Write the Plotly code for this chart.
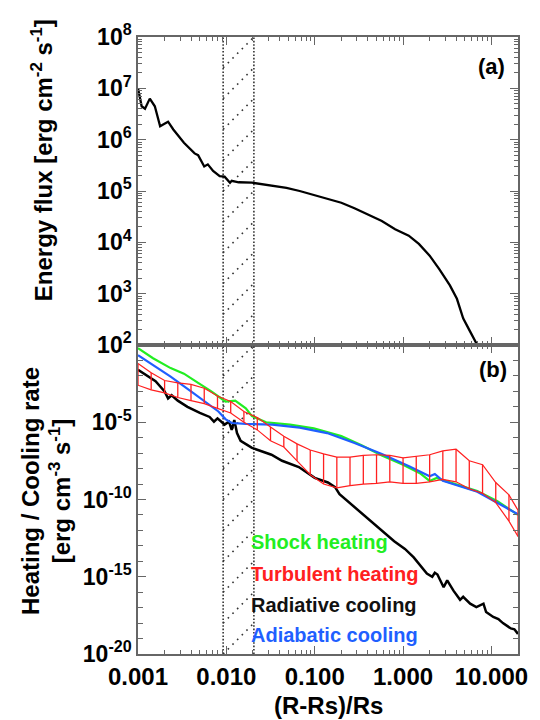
import numpy as np
import plotly.graph_objects as go
from plotly.subplots import make_subplots

# ---------------- data ----------------
# Panel (a): energy flux
r_flux = [0.001, 0.0011, 0.0012, 0.00136, 0.00155, 0.00178, 0.00195, 0.00219, 0.00251,
          0.00331, 0.00437, 0.00479, 0.00562, 0.00617, 0.00708, 0.00841, 0.00955, 0.011,
          0.0115, 0.0138, 0.0195, 0.0331, 0.0479, 0.0676, 0.0977, 0.138, 0.2, 0.282,
          0.398, 0.575, 0.813, 1.16, 1.51, 2.0, 2.57, 3.39, 4.07, 4.79, 5.75, 6.92]
energy_flux = [1.0e7, 4.47e6, 4.0e6, 6.3e6, 4.47e6, 1.82e6, 2.0e6, 2.24e6, 1.58e6,
               8.7e5, 5.4e5, 5.0e5, 3.0e5, 3.3e5, 2.45e5, 1.95e5, 1.9e5, 1.45e5,
               1.58e5, 1.48e5, 1.45e5, 1.29e5, 1.15e5, 1.0e5, 8.3e4, 6.9e4, 5.9e4, 4.6e4,
               3.5e4, 2.6e4, 1.8e4, 1.35e4, 9.3e3, 5.5e3, 3.0e3, 1.45e3, 794, 331, 182, 100]

# Panel (b): shock heating (green)
r_shock = [0.001, 0.00148, 0.00234, 0.00331, 0.00479, 0.00676, 0.00977, 0.0126, 0.0166,
           0.0195, 0.0282, 0.0525, 0.0977, 0.2, 0.339, 0.575, 1.0, 1.55, 2.0, 2.4, 2.82,
           4.07, 6.92, 11.7, 20.0]
shock_heating = [6.3e-1, 1.4e-1, 3.2e-2, 1.4e-2, 3.5e-3, 1.0e-3, 2.2e-4, 2.5e-4, 7.9e-5,
                 2.5e-5, 1.0e-5, 7.1e-6, 4.0e-6, 1.26e-6, 3.2e-7, 7.1e-8, 1.8e-8, 5.0e-9,
                 1.6e-9, 2.5e-9, 1.8e-9, 8.9e-10, 3.5e-10, 7.9e-11, 1.0e-11]

# adiabatic cooling (blue)
r_adiab = [0.001, 0.00148, 0.00234, 0.00398, 0.00562, 0.00813, 0.00977, 0.0115, 0.0166,
           0.0331, 0.0676, 0.138, 0.282, 0.575, 1.17, 2.0, 2.29, 2.82, 6.92, 20.0]
adiabatic_cooling = [2.2e-1, 5.0e-2, 8.9e-3, 1.0e-3, 2.5e-4, 5.0e-5, 1.6e-5, 8.9e-6, 7.9e-6,
                     7.1e-6, 4.5e-6, 2.0e-6, 4.5e-7, 8.9e-8, 1.4e-8, 3.2e-9, 4.5e-9, 1.6e-9,
                     3.2e-10, 1.1e-11]

# radiative cooling (black)
r_rad = [0.001, 0.00126, 0.00158, 0.002, 0.00219, 0.0024, 0.00282, 0.00363, 0.00501,
         0.00646, 0.00724, 0.00794, 0.00955, 0.0107, 0.0115, 0.0123, 0.0132, 0.0145,
         0.0195, 0.0324, 0.0427, 0.0661, 0.1, 0.141, 0.17, 0.191, 0.282, 0.479, 0.794,
         1.05, 1.32, 1.86, 2.14, 2.29, 2.45, 2.88, 3.16, 3.72, 4.42, 4.79, 5.75, 6.76,
         8.13, 8.71, 10.5, 12.0, 13.5, 16.6, 18.2, 20.0]
radiative_cooling = [2.5e-2, 1.1e-2, 4.5e-3, 1.0e-3, 3.5e-4, 5.6e-4, 2.5e-4, 1.0e-4, 4.0e-5,
                     2.2e-5, 1.1e-5, 1.8e-5, 7.1e-6, 1.1e-5, 3.2e-6, 1.4e-5, 2.0e-6, 6.3e-7,
                     2.2e-7, 7.9e-8, 3.2e-8, 1.26e-8, 2.5e-9, 1.26e-9, 6.3e-10, 2.2e-10,
                     3.2e-11, 2.5e-12, 2.0e-13, 6.3e-14, 1.8e-14, 1.6e-15, 1.0e-15, 1.8e-15,
                     1.4e-15, 2.1e-16, 5.8e-16, 1.26e-16, 3.2e-17, 5.0e-17, 1.8e-17, 1.1e-17,
                     1.8e-17, 5.2e-18, 2.5e-18, 1.8e-18, 1.0e-18, 4.5e-19, 4.0e-19, 2.0e-19]

# turbulent heating (red): upper / lower envelope
r_turb = [0.001, 0.00141, 0.002, 0.00282, 0.00398, 0.00562, 0.00794, 0.0112, 0.0158,
          0.0224, 0.0316, 0.0447, 0.0631, 0.0891, 0.126, 0.178, 0.251, 0.355, 0.501,
          0.708, 1.0, 1.41, 2.0, 2.82, 3.98, 5.62, 7.94, 11.2, 15.8, 20.0]
turb_upper = [6.3e-2, 1.6e-2, 5.0e-3, 3.5e-3, 2.8e-3, 1.6e-3, 5.0e-4, 2.2e-4, 5.0e-5,
              2.0e-5, 5.0e-6, 1.26e-6, 4.0e-7, 1.6e-7, 8.9e-8, 5.6e-8, 5.6e-8, 7.1e-8,
              7.9e-8, 7.1e-8, 5.0e-8, 6.3e-8, 7.9e-8, 1.4e-7, 1.8e-7, 3.2e-8, 1.8e-8,
              1.26e-9, 2.0e-10, 2.0e-11]
turb_lower = [2.5e-3, 1.26e-3, 7.9e-4, 4.0e-4, 2.5e-4, 1.6e-4, 7.9e-5, 4.0e-5, 1.0e-5,
              3.2e-6, 6.3e-7, 2.5e-7, 3.2e-8, 4.0e-9, 1.0e-9, 5.6e-10, 7.9e-10, 1.0e-9,
              1.1e-9, 1.4e-9, 1.1e-9, 1.1e-9, 1.4e-9, 2.0e-9, 1.4e-9, 5.0e-10, 2.5e-10,
              6.3e-11, 4.0e-12, 4.0e-13]

# transition-region band and tick labels
band_left, band_right = 0.0092, 0.0205
x_tickvals = [0.001, 0.01, 0.1, 1, 10]
x_ticktext = ["0.001", "0.010", "0.100", "1.000", "10.000"]
ya_tickvals = [1e2, 1e3, 1e4, 1e5, 1e6, 1e7, 1e8]
ya_ticktext = ["10<sup>2</sup>", "10<sup>3</sup>", "10<sup>4</sup>", "10<sup>5</sup>",
               "10<sup>6</sup>", "10<sup>7</sup>", "10<sup>8</sup>"]
yb_tickvals = [1e-20, 1e-15, 1e-10, 1e-5]
yb_ticktext = ["10<sup>-20</sup>", "10<sup>-15</sup>", "10<sup>-10</sup>", "10<sup>-5</sup>"]
legend_labels = ["Shock heating", "Turbulent heating", "Radiative cooling", "Adiabatic cooling"]
legend_colors = ["#22ee22", "#ff2020", "#111111", "#1f5fff"]

# ---------------- figure ----------------
# the page body has an 8 px margin, so the figure is drawn 8 px smaller
W, H = 532, 712
L, R, T, B = 130, 18, 25, 66
plot_w = W - L - R
plot_h = H - T - B
mid = 311.0 / plot_h
YA_RANGE = [2, 8]
YB_RANGE = [-20, 0]

fig = make_subplots(rows=2, cols=1, shared_xaxes=True, vertical_spacing=0)

# dotted hatched band, drawn in each panel in data coordinates
DOT_V = dict(color="#333", width=1.6, dash="1.6px,1.8px")
DOT_D = dict(color="#333", width=1.6, dash="1.6px,5px")
for row, (lo, hi), nper in ((1, YA_RANGE, 10), (2, YB_RANGE, 10)):
    for xv in (band_left, band_right):
        fig.add_trace(go.Scatter(x=[xv, xv], y=[10.0 ** lo, 10.0 ** hi], mode="lines",
                                 line=DOT_V, hoverinfo="skip"), row=row, col=1)
    step = (hi - lo) / nper
    dx, dy = [], []
    for k in range(nper):
        dx += [band_left, band_right, None]
        dy += [10.0 ** (lo + k * step), 10.0 ** (lo + (k + 1) * step), None]
    fig.add_trace(go.Scatter(x=dx, y=dy, mode="lines", line=DOT_D, hoverinfo="skip"),
                  row=row, col=1)

fig.add_trace(go.Scatter(x=r_flux, y=energy_flux, mode="lines",
                         line=dict(color="black", width=2.3)), row=1, col=1)

fig.add_trace(go.Scatter(x=r_rad, y=radiative_cooling, mode="lines",
                         line=dict(color="black", width=2.5)), row=2, col=1)
fig.add_trace(go.Scatter(x=r_shock, y=shock_heating, mode="lines",
                         line=dict(color="#22ee22", width=2.2)), row=2, col=1)
fig.add_trace(go.Scatter(x=r_adiab, y=adiabatic_cooling, mode="lines",
                         line=dict(color="#1f5fff", width=2.2)), row=2, col=1)

vx, vy = [], []
for xv, up, lo in zip(r_turb, turb_upper, turb_lower):
    vx += [xv, xv, None]
    vy += [up, lo, None]
fig.add_trace(go.Scatter(x=vx, y=vy, mode="lines",
                         line=dict(color="#ff2020", width=1.3)), row=2, col=1)
fig.add_trace(go.Scatter(x=r_turb, y=turb_upper, mode="lines",
                         line=dict(color="#ff2020", width=1.2)), row=2, col=1)
fig.add_trace(go.Scatter(x=r_turb, y=turb_lower, mode="lines",
                         line=dict(color="#ff2020", width=1.2)), row=2, col=1)

FONT = "Liberation Sans, Arial, sans-serif"
axis_common = dict(showline=True, linecolor="#666", linewidth=1.5, mirror="ticks",
                   ticks="inside", tickcolor="#666", tickwidth=1.2, showgrid=False,
                   zeroline=False)

x_minor = [m * 10.0 ** e for e in range(-3, 2) for m in range(2, 10)]
fig.update_xaxes(type="log", range=[-3, np.log10(20.0)], ticklen=8,
                 tickvals=x_tickvals, ticktext=x_ticktext,
                 minor=dict(tickvals=x_minor, ticks="inside", ticklen=4, tickcolor="#666"),
                 **axis_common)
fig.update_xaxes(showticklabels=False, row=1, col=1)
fig.update_xaxes(showticklabels=True,
                 tickfont=dict(size=24, color="black", family=FONT, weight="bold"),
                 row=2, col=1)

ya_minor = [m * 10.0 ** e for e in range(2, 8) for m in range(2, 10)]
fig.update_yaxes(type="log", range=YA_RANGE, tickvals=ya_tickvals, ticktext=ya_ticktext,
                 ticklen=8, domain=[mid, 1],
                 tickfont=dict(size=23, color="black", family=FONT, weight="bold"),
                 minor=dict(tickvals=ya_minor, ticks="inside", ticklen=4, tickcolor="#666"),
                 row=1, col=1, **axis_common)
yb_minor = [10.0 ** e for e in range(-19, 0)]
fig.update_yaxes(type="log", range=YB_RANGE, tickvals=yb_tickvals, ticktext=yb_ticktext,
                 ticklen=8, domain=[0, mid],
                 tickfont=dict(size=23, color="black", family=FONT, weight="bold"),
                 minor=dict(tickvals=yb_minor, ticks="inside", ticklen=5, tickcolor="#666"),
                 row=2, col=1, **axis_common)


# positions below are given in page pixels (ref) and converted to paper fractions
def px(xp):
    return (xp - 8 - L) / plot_w


def py(yp):
    return (H - B - (yp - 8)) / plot_h


annotations = []
leg_y = [541.7, 573, 605, 635]
for lab, col, yp in zip(legend_labels, legend_colors, leg_y):
    annotations.append(dict(text=lab, xref="paper", yref="paper", x=px(250), y=py(yp),
                            xanchor="left", yanchor="middle", showarrow=False,
                            font=dict(size=20, color=col, family=FONT, weight="bold")))
annotations.append(dict(text="(a)", xref="paper", yref="paper", x=px(495), y=py(63),
                        xanchor="center", yanchor="middle", showarrow=False,
                        font=dict(size=22, color="black", family=FONT, weight="bold")))
annotations.append(dict(text="(b)", xref="paper", yref="paper", x=px(497), y=py(368),
                        xanchor="center", yanchor="middle", showarrow=False,
                        font=dict(size=22, color="black", family=FONT, weight="bold")))
annotations.append(dict(text="Energy flux [erg cm<sup>-2</sup> s<sup>-1</sup>]", textangle=-90,
                        xref="paper", yref="paper", x=px(41), y=py(157),
                        xanchor="center", yanchor="middle", showarrow=False,
                        font=dict(size=24, color="black", family=FONT, weight="bold")))
annotations.append(dict(text="Heating / Cooling rate<br>[erg cm<sup>-3</sup> s<sup>-1</sup>]",
                        textangle=-90, xref="paper", yref="paper", x=px(45), y=py(490),
                        xanchor="center", yanchor="middle", showarrow=False,
                        font=dict(size=24, color="black", family=FONT, weight="bold")))
annotations.append(dict(text="(R-Rs)/Rs", xref="paper", yref="paper", x=0.5, y=py(706),
                        xanchor="center", yanchor="middle", showarrow=False,
                        font=dict(size=24, color="black", family=FONT, weight="bold")))

fig.update_layout(width=W, height=H, margin=dict(l=L, r=R, t=T, b=B),
                  paper_bgcolor="white", plot_bgcolor="white", showlegend=False,
                  annotations=annotations, font=dict(family=FONT, color="black"))

fig.write_html("out.html")
